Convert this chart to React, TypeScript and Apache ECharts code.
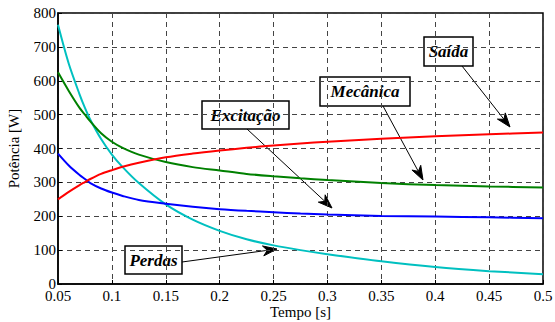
import React, { useEffect, useRef } from "react";
import * as echarts from "echarts";

const tempo = [0.05, 0.06, 0.07, 0.075, 0.08, 0.09, 0.1, 0.11, 0.125, 0.15, 0.175, 0.2, 0.225, 0.25, 0.275, 0.3, 0.35, 0.4, 0.45, 0.5];
const saida = [250, 272, 292, 301, 310, 325, 336, 346, 358, 374, 385, 394, 402, 409, 415, 420, 429, 436, 442, 447];
const mecanica = [625, 570, 520, 500, 480, 445, 420, 402, 382, 360, 345, 335, 325, 318, 312, 307, 298, 292, 288, 285];
const excitacao = [385, 350, 322, 310, 298, 282, 270, 260, 248, 237, 228, 221, 216, 212, 208, 205, 201, 199, 197, 194];
const perdas = [765, 650, 560, 520, 485, 428, 382, 345, 298, 235, 190, 157, 132, 114, 100, 88, 67, 50, 38, 29];

const xTicks = { min: 0.05, max: 0.5, interval: 0.05 };
const yTicks = { min: 0, max: 800, interval: 100 };

const SERIF = "'Liberation Serif', 'Times New Roman', serif";

// annotation boxes: [label, left, top, right, bottom, arrowFromX, arrowFromY, tipX, tipY]
const notes: [string, number, number, number, number, number, number, number, number][] = [
  ["Saída", 424, 37, 473, 66, 462, 66, 510, 127],
  ["Mecânica", 320, 77, 410, 106, 383, 106, 423, 180],
  ["Excitação", 202, 101, 289, 129, 247, 129, 332, 208],
  ["Perdas", 125, 246, 182, 274, 182, 262, 277, 249],
];

function arrow(x1: number, y1: number, x2: number, y2: number) {
  const dx = x2 - x1, dy = y2 - y1;
  const len = Math.sqrt(dx * dx + dy * dy);
  const ux = dx / len, uy = dy / len;
  const hl = 14, hw = 5;
  const bx = x2 - ux * hl, by = y2 - uy * hl;
  const mx = x2 - ux * hl * 0.7, my = y2 - uy * hl * 0.7;
  return [
    { type: "line", shape: { x1, y1, x2: mx, y2: my }, style: { stroke: "#000", lineWidth: 1 } },
    {
      type: "polygon",
      shape: { points: [[x2, y2], [bx - uy * hw, by + ux * hw], [mx, my], [bx + uy * hw, by - ux * hw]] },
      style: { fill: "#000", stroke: "#000" },
    },
  ];
}

export default function App() {
  const ref = useRef<HTMLDivElement>(null);
  useEffect(() => {
    if (!ref.current) return;
    const chart = echarts.init(ref.current, null, { renderer: "svg" });
    const mk = (vals: number[], color: string, name: string) => ({
      type: "line",
      name,
      data: tempo.map((t, i) => [t, vals[i]]),
      smooth: 0.3,
      showSymbol: false,
      lineStyle: { color, width: 2 },
      itemStyle: { color },
    });
    const graphics: any[] = [];
    notes.forEach(([label, l, t, r, b, fx, fy, tx, ty]) => {
      graphics.push(...arrow(fx, fy, tx, ty));
      graphics.push({
        type: "rect",
        shape: { x: l, y: t, width: r - l, height: b - t },
        style: { fill: "#fff", stroke: "#000", lineWidth: 1.5 },
      });
      graphics.push({
        type: "text",
        x: (l + r) / 2,
        y: (t + b) / 2,
        style: {
          text: label,
          fontFamily: SERIF,
          fontSize: 17,
          fontWeight: "bold",
          fontStyle: "italic",
          fill: "#000",
          align: "center",
          verticalAlign: "middle",
        },
      });
    });
    const gridLine = { show: true, lineStyle: { color: "#444", type: [5, 4], width: 1 } };
    const label = { fontFamily: SERIF, fontSize: 15, color: "#000" };
    chart.setOption({
      animation: false,
      backgroundColor: "#fff",
      grid: {
        left: 58, right: 12, top: 13, bottom: 38,
        containLabel: false, outerBoundsMode: "none",
        show: true, borderColor: "#000", borderWidth: 1.5,
      },
      xAxis: {
        type: "value",
        ...xTicks,
        name: "Tempo [s]",
        nameLocation: "middle",
        nameGap: 20,
        nameMoveOverlap: false,
        nameTextStyle: { fontFamily: SERIF, fontSize: 15, color: "#000" },
        axisLine: { show: true, lineStyle: { color: "#000", width: 1.5 } },
        axisTick: { show: true, inside: true, length: 4, lineStyle: { color: "#000" } },
        axisLabel: {
          ...label,
          margin: 4,
          formatter: (v: number) => String(parseFloat(v.toFixed(2))),
        },
        splitLine: gridLine,
      },
      yAxis: {
        type: "value",
        ...yTicks,
        name: "Potência [W]",
        nameLocation: "middle",
        nameGap: 37,
        nameMoveOverlap: false,
        nameTextStyle: { fontFamily: SERIF, fontSize: 15, color: "#000" },
        axisLine: { show: true, lineStyle: { color: "#000", width: 1.5 } },
        axisTick: { show: true, inside: true, length: 4, lineStyle: { color: "#000" } },
        axisLabel: { ...label, margin: 2 },
        splitLine: gridLine,
      },
      series: [
        mk(perdas, "#00c0c0", "Perdas"),
        mk(excitacao, "#0000ff", "Excitação"),
        mk(mecanica, "#008000", "Mecânica"),
        mk(saida, "#ff0000", "Saída"),
      ],
      graphic: graphics,
    });
    return () => chart.dispose();
  }, []);
  return <div ref={ref} style={{ width: 555, height: 322, position: "absolute", left: 0, top: 0 }} />;
}
